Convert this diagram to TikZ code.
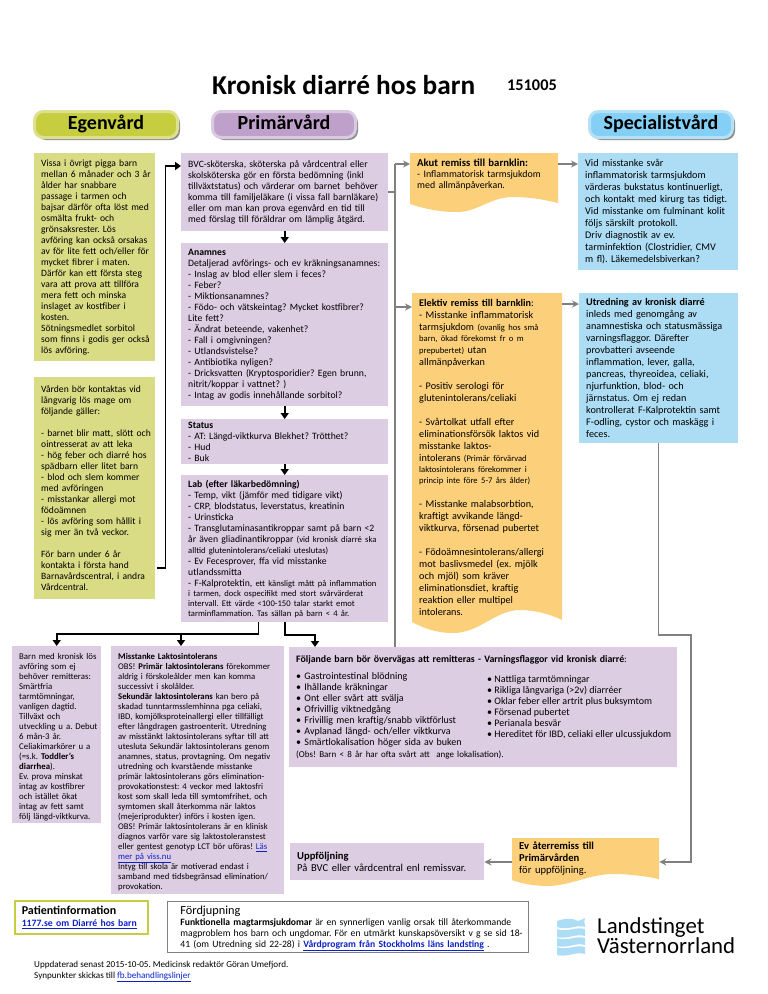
\documentclass[tikz,border=0pt]{standalone}
\usepackage{fontspec}
\setmainfont{Carlito}
\usetikzlibrary{positioning,shadows,arrows.meta}
\definecolor{egengreen}{HTML}{D9DC84}
\definecolor{egenhead}{HTML}{C6CD3E}
\definecolor{egenrim}{HTML}{DDE08F}
\definecolor{primlila}{HTML}{DDCDE2}
\definecolor{primhead}{HTML}{BFA0CB}
\definecolor{primrim}{HTML}{D9CADF}
\definecolor{remorange}{HTML}{FCD07A}
\definecolor{specblue}{HTML}{ADDDF5}
\definecolor{spechead}{HTML}{83CFF5}
\definecolor{specrim}{HTML}{B5E1F6}
\definecolor{linkblue}{HTML}{0B20C8}
\definecolor{railgray}{HTML}{808080}
\newcommand{\mintxt}[1]{{\fontsize{8.6}{10}\selectfont #1}}
\newcommand{\lank}[1]{{\color{linkblue}\underline{#1}}}
\AtBeginDocument{\frenchspacing}
\tikzset{
  headpill/.style={rounded corners=9pt,line width=3pt,minimum width=143pt,minimum height=26pt,inner sep=0pt,
    font=\fontsize{20}{22}\selectfont\bfseries,text height=13pt,text depth=4pt,
    drop shadow={shadow xshift=2.5pt,shadow yshift=-2.5pt,fill=black,opacity=.45}},
  txtbox/.style={anchor=north west,inner xsep=7pt,inner ysep=2pt,
    execute at begin node={\rightskip=-14pt plus 1fil\relax}},
  egenbox/.style={txtbox,fill=egengreen,font=\fontsize{9.6}{11}\selectfont},
  primbox/.style={txtbox,fill=primlila,font=\fontsize{9.7}{11}\selectfont},
  specbox/.style={txtbox,fill=specblue,font=\fontsize{10.2}{12}\selectfont},
  rembox/.style={txtbox,inner ysep=6pt,font=\fontsize{10.2}{12}\selectfont},
  blk/.style={line width=1.6pt,black},
  blkarr/.style={blk,-{Triangle[length=6pt,width=8pt]}},
  grayline/.style={line width=1.5pt,railgray},
  grayarr/.style={grayline,-{Stealth[length=7pt,width=7pt]}}
}
\begin{document}
\begin{tikzpicture}[x=1pt,y=-1pt]
  \useasboundingbox (0,0) rectangle (768,994);
  % titel
  \node[anchor=west,inner sep=0pt,font=\fontsize{27.3}{30}\selectfont\bfseries] (titel) at (212,85) {Kronisk diarré hos barn};
  \node[anchor=west,inner sep=0pt,font=\fontsize{16.3}{18}\selectfont\bfseries] (datum) at (507,85) {151005};
  \node[headpill,fill=egenhead,draw=egenrim] (egenhuvud) at (106,124.5) {Egenvård};
  \node[headpill,fill=primhead,draw=primrim] (primhuvud) at (284,124.5) {Primärvård};
  \node[headpill,fill=spechead,draw=specrim] (spechuvud) at (661,124.5) {Specialistvård};
  % egenvard
  \node[egenbox,text width=107pt,minimum height=208pt] (vissa) at (34,153) {Vissa i övrigt pigga barn\\
mellan 6 månader och 3 år\\
ålder har snabbare\\
passage i tarmen och\\
bajsar därför ofta löst med\\
osmälta frukt- och\\
grönsaksrester. Lös\\
avföring kan också orsakas\\
av för lite fett och/eller för\\
mycket fibrer i maten.\\
Därför kan ett första steg\\
vara att prova att tillföra\\
mera fett och minska\\
inslaget av kostfiber i\\
kosten.\\
Sötningsmedlet sorbitol\\
som finns i godis ger också\\
lös avföring.};
  \node[egenbox,text width=107pt,minimum height=222pt] (kontakt) at (34,377) {Vården bör kontaktas vid\\
långvarig lös mage om\\
följande gäller:\\[11pt]
- barnet blir matt, slött och\\
ointresserat av att leka\\
- hög feber och diarré hos\\
spädbarn eller litet barn\\
- blod och slem kommer\\
med avföringen\\
- misstankar allergi mot\\
födoämnen\\
- lös avföring som hållit i\\
sig mer än två veckor.\\[11pt]
För barn under 6 år\\
kontakta i första hand\\
Barnavårdscentral, i andra\\
Vårdcentral.};
  % primarvard
  \node[primbox,text width=193pt,minimum height=78pt] (bvc) at (181,153) {BVC-sköterska, sköterska på vårdcentral eller\\
skolsköterska gör en första bedömning (inkl\\
tillväxtstatus) och värderar om barnet\, behöver\\
komma till familjeläkare (i vissa fall barnläkare)\\
eller om man kan prova egenvård en tid till\\
med förslag till föräldrar om lämplig åtgärd.};
  \node[primbox,text width=193pt,minimum height=163pt] (anam) at (181,243) {\textbf{Anamnes}\\
Detaljerad avförings- och ev kräkningsanamnes:\\
- Inslag av blod eller slem i feces?\\
- Feber?\\
- Miktionsanamnes?\\
- Födo- och vätskeintag? Mycket kostfibrer?\\
Lite fett?\\
- Ändrat beteende, vakenhet?\\
- Fall i omgivningen?\\
- Utlandsvistelse?\\
- Antibiotika nyligen?\\
- Dricksvatten (Kryptosporidier? Egen brunn,\\
nitrit/koppar i vattnet? )\\
- Intag av godis innehållande sorbitol?};
  \node[primbox,text width=193pt,minimum height=45pt] (status) at (181,419) {\textbf{Status}\\
- AT: Längd-viktkurva Blekhet? Trötthet?\\
- Hud\\
- Buk};
  \node[primbox,text width=193pt,minimum height=147pt] (lab) at (181,475) {\textbf{Lab (efter läkarbedömning)}\\
- Temp, vikt (jämför med tidigare vikt)\\
- CRP, blodstatus, leverstatus, kreatinin\\
- Urinsticka\\
- Transglutaminasantikroppar samt på barn <2\\
år även gliadinantikroppar \mintxt{(vid kronisk diarré ska}\\
\mintxt{alltid glutenintolerans/celiaki uteslutas)}\\
- Ev Fecesprover, ffa vid misstanke\\
utlandssmitta\\
- F-Kalprotektin, \mintxt{ett känsligt mått på inflammation}\\[-1pt]
\mintxt{i tarmen, dock ospecifikt med stort svårvärderat}\\[-1pt]
\mintxt{intervall. Ett värde <100-150 talar starkt emot}\\[-1pt]
\mintxt{tarminflammation. Tas sällan på barn < 4 år.}};
  \node[primbox,text width=75pt,minimum height=177pt,inner ysep=1pt,font=\fontsize{8.8}{10}\selectfont] (barn) at (12,646) {\rule{0pt}{12pt}Barn med kronisk lös\\
avföring som ej\\
behöver remitteras:\\
Smärtfria\\
tarmtömningar,\\
vanligen dagtid.\\
Tillväxt och\\
utveckling u a. Debut\\
6 mån-3 år.\\
Celiakimarkörer u a\\
(=s.k. \textbf{Toddler's}\\
\textbf{diarrhea}).\\
Ev. prova minskat\\
intag av kostfibrer\\
och istället ökat\\
intag av fett samt\\
följ längd-viktkurva.};
  \node[primbox,text width=159pt,minimum height=248pt,font=\fontsize{8.7}{10}\selectfont] (laktos) at (111,646) {\rule{0pt}{10pt}\textbf{Misstanke Laktosintolerans}\\
OBS! \textbf{Primär laktosintolerans} förekommer\\
aldrig i förskoleålder men kan komma\\
successivt i skolålder.\\
\textbf{Sekundär laktosintolerans} kan bero på\\
skadad tunntarmsslemhinna pga celiaki,\\
IBD, komjölksproteinallergi eller tillfälligt\\
efter långdragen gastroenterit. Utredning\\
av misstänkt laktosintolerans syftar till att\\
utesluta Sekundär laktosintolerans genom\\
anamnes, status, provtagning. Om negativ\\
utredning och kvarstående misstanke\\
primär laktosintolerans görs elimination-\\
provokationstest: 4 veckor med laktosfri\\
kost som skall leda till symtomfrihet, och\\
symtomen skall återkomma när laktos\\
(mejeriprodukter) införs i kosten igen.\\
OBS! Primär laktosintolerans är en klinisk\\
diagnos varför vare sig laktostoleranstest\\
eller gentest genotyp LCT bör uföras! \lank{Läs}\\
\lank{mer på viss.nu}\\
Intyg till skola är motiverad endast i\\
samband med tidsbegränsad elimination/\\
provokation.};
  \node[primbox,text width=374pt,minimum height=120pt] (varn) at (289,647) {{\fontsize{9.85}{11}\selectfont\textbf{Följande barn bör övervägas att remitteras - Varningsflaggor vid kronisk diarré}:}\\[6pt]
{\fontsize{10}{11}\selectfont\textbullet\ Gastrointestinal blödning\\
\textbullet\ Ihållande kräkningar\\
\textbullet\ Ont eller svårt att svälja\\
\textbullet\ Ofrivillig viktnedgång\\
\textbullet\ Frivillig men kraftig/snabb viktförlust\\
\textbullet\ Avplanad längd- och/eller viktkurva\\
\textbullet\ Smärtlokalisation höger sida av buken}\\[1pt]
{\fontsize{9}{10}\selectfont (Obs! Barn < 8 år har ofta svårt att \ ange lokalisation).}};
  \node[anchor=north west,inner sep=0pt,align=left,font=\fontsize{10}{11}\selectfont] (varnhoger) at (487,675) {\textbullet\ Nattliga tarmtömningar\\
\textbullet\ Rikliga långvariga (>2v) diarréer\\
\textbullet\ Oklar feber eller artrit plus buksymtom\\
\textbullet\ Försenad pubertet\\
\textbullet\ Perianala besvär\\
\textbullet\ Hereditet för IBD, celiaki eller ulcussjukdom};
  \node[primbox,text width=180pt,minimum height=37pt,font=\fontsize{10.6}{12}\selectfont] (uppf) at (290,843) {\textbf{Uppföljning}\\
På BVC eller vårdcentral enl remissvar.};
  % remisser
  \fill[remorange] (410,153) -- (558,153) -- (558,203) .. controls (542,199) and (528,197) .. (513,197) .. controls (490,197) and (478,212) .. (457,212) .. controls (440,212) and (425,209) .. (410,204) -- cycle;
  \node[rembox,text width=134pt,font=\fontsize{9.9}{11}\selectfont] (akut) at (410,153) {{\fontsize{10.7}{11}\selectfont\textbf{Akut remiss till barnklin:}}\\
- Inflammatorisk tarmsjukdom\\
med allmänpåverkan.};
  \fill[remorange] (412,293) -- (562,293) -- (562,620) .. controls (548,613) and (532,610) .. (520,610) .. controls (495,610) and (480,633) .. (453,633) .. controls (438,633) and (425,629) .. (412,622) -- cycle;
  \node[rembox,text width=136pt] (elektiv) at (412,293) {\textbf{Elektiv remiss till barnklin}:\\
- Misstanke inflammatorisk\\
tarmsjukdom \mintxt{(ovanlig hos små}\\[-1pt]
\mintxt{barn, ökad förekomst fr o m}\\
\mintxt{prepubertet)} utan\\
allmänpåverkan\\[12pt]
- Positiv serologi för\\
glutenintolerans/celiaki\\[12pt]
- Svårtolkat utfall efter\\
eliminationsförsök laktos vid\\
misstanke laktos-\\
intolerans \mintxt{(Primär förvärvad}\\[-1pt]
\mintxt{laktosintolerans förekommer i}\\[-1pt]
\mintxt{princip inte före 5-7 års ålder)}\\[12pt]
- Misstanke malabsorbtion,\\
kraftigt avvikande längd-\\
viktkurva, försenad pubertet\\[12pt]
- Födoämnesintolerans/allergi\\
mot baslivsmedel (ex. mjölk\\
och mjöl) som kräver\\
eliminationsdiet, kraftig\\
reaktion eller multipel\\
intolerans.};
  \fill[remorange] (512,838) -- (659,838) -- (659,879) .. controls (645,876) and (628,874) .. (613,874) .. controls (590,874) and (570,886) .. (547,886) .. controls (535,886) and (523,884) .. (512,880) -- cycle;
  \node[rembox,text width=133pt,inner ysep=4pt,font=\fontsize{10.6}{12}\selectfont] (evre) at (512,838) {\textbf{Ev återremiss till}\\
\textbf{Primärvården}\\
för uppföljning.};
  % specialistvard
  \node[specbox,text width=146pt,minimum height=117pt] (misst) at (578,153) {Vid misstanke svår\\
inflammatorisk tarmsjukdom\\
värderas bukstatus kontinuerligt,\\
och kontakt med kirurg tas tidigt.\\
Vid misstanke om fulminant kolit\\
följs särskilt protokoll.\\
Driv diagnostik av ev.\\
tarminfektion (Clostridier, CMV\\
m fl). Läkemedelsbiverkan?};
  \node[specbox,text width=145pt,minimum height=150pt] (utred) at (579,293) {\textbf{Utredning av kronisk diarré}\\
inleds med genomgång av\\
anamnestiska och statusmässiga\\
varningsflaggor. Därefter\\
provbatteri avseende\\
inflammation, lever, galla,\\
pancreas, thyreoidea, celiaki,\\
njurfunktion, blod- och\\
järnstatus. Om ej redan\\
kontrollerat F-Kalprotektin samt\\
F-odling, cystor och maskägg i\\
feces.};
  % pilar svarta
  \coordinate (loopbot) at (165.5,568);
  \coordinate (looptop) at (165.5,166);
  \coordinate (labbar) at (258.5,634);
  \coordinate (labtap) at (181,634);
  \coordinate (varnin) at (315,635);
  \draw[blkarr] ([xshift=2pt]kontakt.east |- loopbot) -- (loopbot) -- (looptop) -- (bvc.west |- looptop);
  \draw[blkarr] (bvc.south) -- (anam.north);
  \draw[blkarr] (anam.south) -- (status.north);
  \draw[blkarr] (status.south) -- (lab.north);
  \draw[blkarr] (lab.south -| labbar) -- (labbar) -- (labbar -| barn.north) -- (barn.north);
  \draw[blkarr] (labtap) -- (labtap |- laktos.north);
  \draw[blkarr] (lab.south) -- (lab.south |- varnin) -- (varnin) -- (varnin |- varn.north);
  % pilar gra
  \coordinate (railtop) at (395,164);
  \coordinate (railelek) at (395,307);
  \coordinate (retbend) at (691,635);
  \coordinate (retin) at (691,862);
  \draw[grayline] (railtop) -- (railtop |- varn.north);
  \draw[grayline] (bvc.east) -- (bvc.east -| railtop);
  \draw[grayarr] (railtop) -- (railtop -| akut.west);
  \draw[grayarr] (railelek) -- (railelek -| elektiv.west);
  \draw[grayarr] ([yshift=-11pt]akut.north east) -- ([yshift=-11pt]misst.north west);
  \draw[grayarr] ([yshift=-11pt]elektiv.north east) -- ([yshift=-11pt]utred.north west);
  \draw[grayarr] (utred.south) -- (utred.south |- retbend) -- (retbend) -- (retin) -- (retin -| evre.east);
  \draw[grayarr] (retin -| evre.west) -- (retin -| uppf.east);
  % fot
  \node[txtbox,draw=egenhead,line width=1.6pt,text width=119pt,minimum height=33pt,inner ysep=3pt,font=\fontsize{9.7}{12}\selectfont\bfseries] (patient) at (14,900) {{\fontsize{12}{12}\selectfont Patientinformation}\\
\lank{1177.se om Diarré hos barn}};
  \node[txtbox,draw=railgray,line width=.9pt,text width=335pt,inner xsep=13pt,minimum height=51pt,inner ysep=1pt,font=\fontsize{9.65}{11}\selectfont] (fordj) at (167,901) {\rule{0pt}{12pt}{\fontsize{12.3}{12}\selectfont Fördjupning}\\
\textbf{Funktionella magtarmsjukdomar} är en synnerligen vanlig orsak till återkommande\\
magproblem hos barn och ungdomar. För en utmärkt kunskapsöversikt v g se sid 18-\\
41 (om Utredning sid 22-28) i \textbf{\lank{Vårdprogram från Stockholms läns landsting}} .};
  \node[anchor=north west,inner sep=0pt,align=left,font=\fontsize{9.1}{10.5}\selectfont] (uppdat) at (34,961) {Uppdaterad senast 2015-10-05. Medicinsk redaktör Göran Umefjord.\\
Synpunkter skickas till \lank{fb.behandlingslinjer}};
  % logga
  \fill[specblue] (557,921) .. controls (565,918) and (573,918) .. (578,921) .. controls (581,920) and (583,919) .. (585,918) .. controls (584,921) and (584,923) .. (585,925) -- (585,927) .. controls (577,924) and (568,931) .. (557,927) -- cycle;
  \foreach \y in {929,938,947}
    \fill[specblue] (557,\y) .. controls (566,\y+4) and (576,\y-3) .. (585,\y) -- (585,\y+7) .. controls (576,\y+4) and (566,\y+11) .. (557,\y+8) -- cycle;
  \node[anchor=north west,inner sep=0pt,align=left,font=\fontsize{22.8}{20}\selectfont] (logga) at (597,917) {Landstinget\\
Västernorrland};
\end{tikzpicture}
\end{document}
